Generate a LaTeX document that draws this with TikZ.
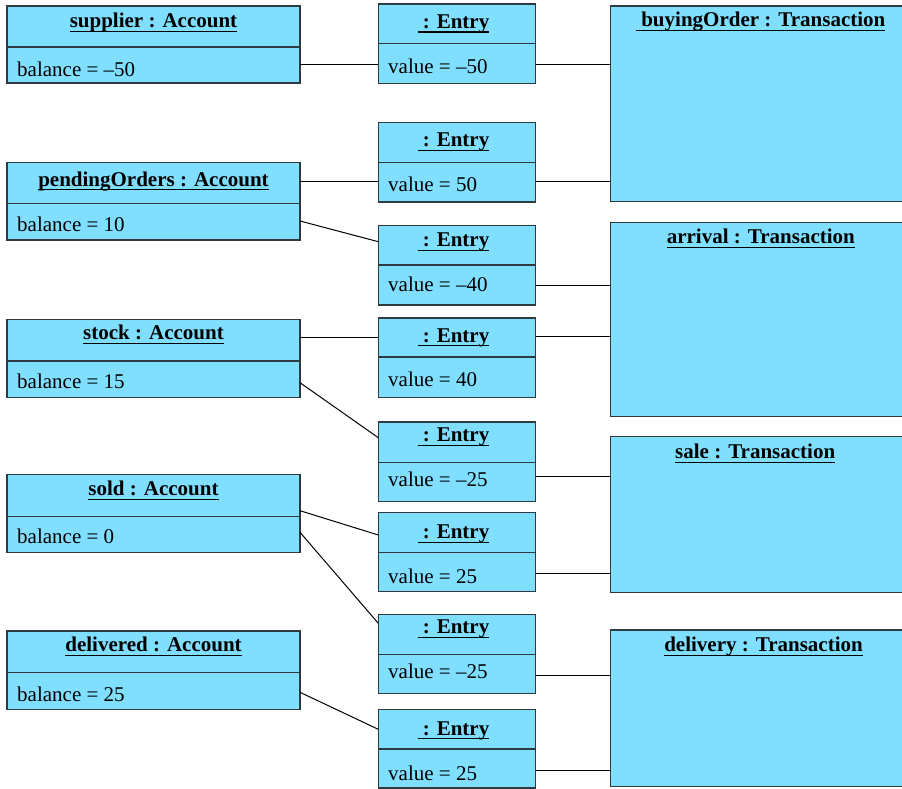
\documentclass[tikz,border=0pt]{standalone}
\usepackage{fontspec}
\setmainfont{Liberation Serif}
\definecolor{objfill}{HTML}{80DFFF}
\definecolor{edge}{HTML}{2E3A3E}
\newcommand\ulin[1]{\setbox0=\hbox{#1}\rlap{\vrule height -3.2pt depth 4.4pt width \wd0}\box0}
\tikzset{
  objrect/.style={draw=edge, line width=1.1pt, fill=objfill, rectangle, inner sep=0pt, outer sep=0pt, anchor=north west},
  divline/.style={draw=edge, line width=1.1pt},
  conn/.style={draw=black, line width=1pt},
  hdr/.style={anchor=base, inner sep=0pt, font=\bfseries},
  val/.style={anchor=base west, inner sep=0pt}
}
% name, top, div, bottom, header baseline, value baseline, header, value
\newcommand\acct[8]{%
  \node[objrect, minimum width=293, minimum height={#4-#2}] (#1) at (7,#2) {};
  \draw[divline] (#1.west |- 0,#3) -- (#1.east |- 0,#3);
  \node[hdr] (#1-h) at (153.5,#5) {\ulin{#7}};
  \node[val] (#1-v) at (17,#6) {#8};}
% name, top, div, bottom, header baseline, value baseline, value
\newcommand\entrybox[7]{%
  \node[objrect, minimum width=157.4, minimum height={#4-#2}] (#1) at (378.3,#2) {};
  \draw[divline] (#1.west |- 0,#3) -- (#1.east |- 0,#3);
  \node[hdr] (#1-h) at (453.4,#5) {\ulin{\ : Entry}};
  \node[val] (#1-v) at (388,#6) {#7};}
% name, top, bottom, header x, header baseline, header
\newcommand\transbox[6]{%
  \node[objrect, minimum width=301, minimum height={#3-#2}] (#1) at (610.7,#2) {};
  \node[hdr] (#1-h) at (#4,#5) {\ulin{#6}};}
\begin{document}
\begin{tikzpicture}[x=1pt, y=-1pt]
\fontsize{21}{25}\selectfont
\useasboundingbox (0,0) rectangle (902,789);
% accounts
\acct{sup}{6}{47}{83}{28}{77}{supplier : Account}{balance = –50}
\acct{pend}{162.7}{203.3}{240}{186}{231.7}{pendingOrders : Account}{balance = 10}
\acct{stock}{319.3}{361}{397.3}{339.3}{388.3}{stock : Account}{balance = 15}
\acct{sold}{474.3}{516.7}{552.3}{495.7}{543.3}{sold : Account}{balance = 0}
\acct{deliv}{631}{672.3}{709.3}{651.7}{701}{delivered : Account}{balance = 25}
% entries
\entrybox{e1}{4}{43.5}{83.3}{28.3}{73.3}{value = –50}
\entrybox{e2}{122.5}{162.7}{202}{146.5}{191.7}{value = 50}
\entrybox{e3}{225.7}{265}{305}{246.7}{291.7}{value = –40}
\entrybox{e4}{318}{357}{397.7}{342}{386.7}{value = 40}
\entrybox{e5}{422}{462.7}{501.7}{441.7}{486.7}{value = –25}
\entrybox{e6}{512.7}{552.3}{591.7}{538.3}{583.3}{value = 25}
\entrybox{e7}{614.7}{654.3}{693.7}{633.3}{678.3}{value = –25}
\entrybox{e8}{709.3}{749}{788}{735}{780}{value = 25}
% transactions
\transbox{buy}{6}{201.7}{760.7}{26.7}{\ buyingOrder : Transaction}
\transbox{arr}{222.3}{416.7}{760.8}{243.3}{arrival : Transaction}
\transbox{sale}{436.7}{592.7}{755.2}{458.3}{sale : Transaction}
\transbox{dlv}{630}{786.7}{763.5}{651.7}{delivery : Transaction}
% account -- entry
\draw[conn] (sup.east |- 0,65) -- (e1.west |- 0,65);
\draw[conn] (pend.east |- 0,181) -- (e2.west |- 0,181);
\draw[conn] (pend.east |- 0,221) -- (e3.west |- 0,241.7);
\draw[conn] (stock.east |- 0,337) -- (e4.west |- 0,337);
\draw[conn] (stock.east |- 0,382.7) -- (e5.west |- 0,437.7);
\draw[conn] (sold.east |- 0,510.7) -- (e6.west |- 0,535);
\draw[conn] (sold.east |- 0,532.3) -- (e7.west |- 0,623.3);
\draw[conn] (deliv.east |- 0,692.3) -- (e8.west |- 0,729.3);
% entry -- transaction
\draw[conn] (e1.east |- 0,65) -- (buy.west |- 0,65);
\draw[conn] (e2.east |- 0,181) -- (buy.west |- 0,181);
\draw[conn] (e3.east |- 0,285) -- (arr.west |- 0,285);
\draw[conn] (e4.east |- 0,336.7) -- (arr.west |- 0,336.7);
\draw[conn] (e5.east |- 0,476) -- (sale.west |- 0,476);
\draw[conn] (e6.east |- 0,573.3) -- (sale.west |- 0,573.3);
\draw[conn] (e7.east |- 0,675) -- (dlv.west |- 0,675);
\draw[conn] (e8.east |- 0,770) -- (dlv.west |- 0,770);
\end{tikzpicture}
\end{document}
